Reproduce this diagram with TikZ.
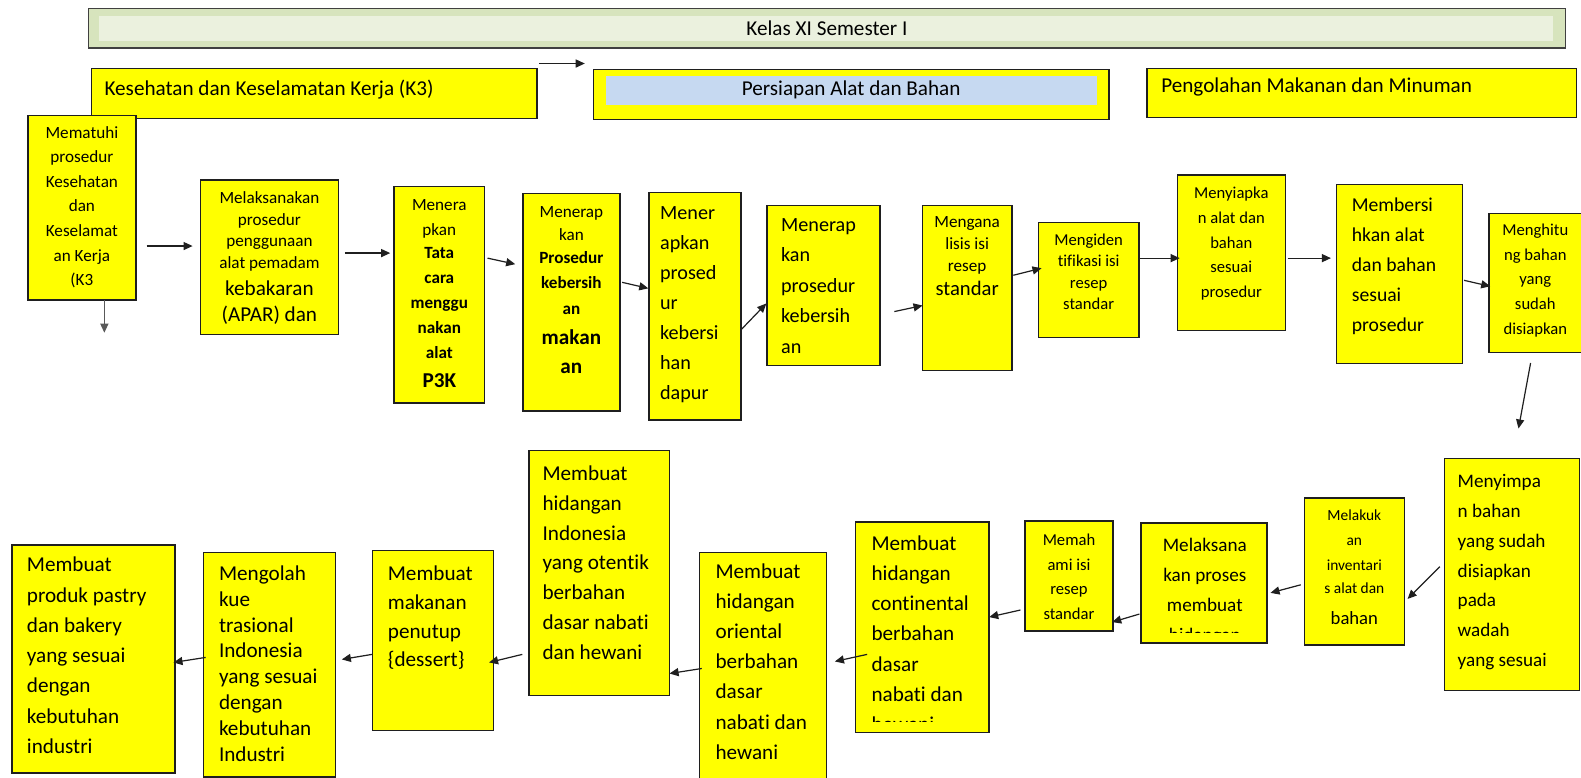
\documentclass[tikz,border=0pt]{standalone}
\usepackage{fontspec}
\setmainfont{Carlito}[Ligatures={NoCommon}]
\usetikzlibrary{arrows.meta,calc}
\definecolor{byel}{HTML}{FFFF00}
\definecolor{bout}{HTML}{D7E4BD}
\definecolor{binn}{HTML}{EBF1DE}
\definecolor{bblue}{HTML}{C6D9F1}
\newcommand\Ln[1]{{\fontsize{\bfs}{\bsk}\selectfont\rule{0pt}{0.8em}#1\par}}
\newcommand\Lz[3]{{\fontsize{#1}{#2}\selectfont\rule{0pt}{0.8em}#3\par}}
\newcommand\Bz[3]{{\fontsize{#1}{#2}\selectfont\bfseries\rule{0pt}{0.8em}#3\par}}
\newcommand\cbx[6]{\parbox[c][#2pt][t]{#1pt}{\def\bfs{#4}\def\bsk{#5}\centering\vspace*{#3pt}#6}}
\newcommand\lbx[7]{\parbox[c][#2pt][t]{#1pt}{\def\bfs{#5}\def\bsk{#6}\raggedright\leftskip=#4pt\relax\vspace*{#3pt}#7}}
\tikzset{
  box/.style={draw=black!88, line width=1.4pt, fill=byel, inner sep=0pt, anchor=north west},
  arr/.style={draw=black!88, line width=1.2pt, -{Triangle[length=9pt,width=8pt]}},
  garr/.style={arr, draw=black!65},
}
\begin{document}
\begin{tikzpicture}[x=1pt,y=-1pt]
\useasboundingbox (0,0) rectangle (1568,771);
% top
\node[box, draw=black!75, fill=bout, line width=1.3pt,
  path picture={\fill[binn] ([xshift=11pt,yshift=-7pt]path picture bounding box.north west) rectangle ([xshift=-12pt,yshift=7pt]path picture bounding box.south east);}]
  (banner) at (87,8) {\cbx{1465}{39}{10.1}{21}{25}{\Ln{Kelas XI Semester I}}};
\node[box] (k3) at (90,67) {\lbx{442}{50}{10.1}{13}{21}{25}{\Ln{Kesehatan dan Keselamatan Kerja (K3)}}};
\node[box, path picture={\fill[bblue] ([xshift=12pt,yshift=-7pt]path picture bounding box.north west) rectangle ([xshift=-12pt,yshift=15pt]path picture bounding box.south east);}]
  (persiapan) at (588,68) {\cbx{511}{50}{9.6}{21}{25}{\Ln{Persiapan Alat dan Bahan}}};
\node[box] (olah) at (1137,67) {\lbx{426}{49}{7.1}{14}{21}{25}{\Ln{Pengolahan Makanan dan Minuman}}};
% row 1
\node[box] (n1) at (27,114) {\cbx{107}{183}{8.6}{17}{24.4}{\Ln{Mematuhi}\Ln{prosedur}\Ln{Kesehatan}\Ln{dan}\Ln{Keselamat}\Ln{an Kerja}\Ln{(K3}}};
\node[box] (n2) at (198,178) {\cbx{137}{153}{9.6}{17}{21.5}{\Ln{Melaksanakan}\Ln{prosedur}\Ln{penggunaan}\Ln{alat pemadam}\Lz{21}{26.5}{kebakaran}\Lz{21}{25.8}{(APAR) dan}}};
\node[box] (n3) at (390,184) {\cbx{90}{215}{10.2}{17}{24.5}{\Ln{Menera}\Lz{17}{25}{pkan}\Bz{17}{23}{Tata}\Bz{17}{25}{cara}\Bz{17}{24.6}{menggu}\Bz{17}{24.4}{nakan}\Bz{17}{25}{alat}\Bz{21}{29}{P3K}}};
\node[box] (n4) at (518,191) {\cbx{96}{216}{10.2}{17}{23}{\Ln{Menerap}\Ln{kan}\Bz{17}{23}{Prosedur}\Bz{17}{25}{kebersih}\Bz{17}{25}{an}\Bz{21}{30.6}{makan}\Bz{21}{28.2}{an}}};
\node[box] (n5) at (643,190) {\lbx{91}{226}{11.2}{11}{20}{29.8}{\Ln{Mener}\Ln{apkan}\Ln{prosed}\Ln{ur}\Ln{kebersi}\Ln{han}\Ln{dapur}}};
\node[box] (n6) at (760,203) {\lbx{112}{159}{9.6}{14}{20}{30.2}{\Ln{Menerap}\Ln{kan}\Ln{prosedur}\Ln{kebersih}\Ln{an}}};
\node[box] (n7) at (914,203) {\cbx{89}{164}{8.2}{17}{21.5}{\Ln{Mengana}\Ln{lisis isi}\Lz{17}{22}{resep}\Lz{20.5}{24}{standar}}};
\node[box] (n8) at (1029,220) {\cbx{100}{114}{9.4}{16.5}{21.2}{\Ln{Mengiden}\Ln{tifikasi isi}\Ln{resep}\Ln{standar}}};
\node[box] (n9) at (1167,173) {\cbx{107}{154}{10.2}{16.5}{24.5}{\Ln{Menyiapka}\Ln{n alat dan}\Ln{bahan}\Ln{sesuai}\Ln{prosedur}}};
\node[box] (n10) at (1325,182) {\lbx{125}{178}{11.9}{15}{19.5}{29.75}{\Ln{Membersi}\Ln{hkan alat}\Ln{dan bahan}\Ln{sesuai}\Ln{prosedur}}};
\node[box] (n11) at (1476,211) {\cbx{92}{138}{8.4}{16.5}{24.6}{\Ln{Menghitu}\Ln{ng bahan}\Ln{yang}\Ln{sudah}\Ln{disiapkan}}};
% row 2
\node[box] (n12) at (1432,454) {\lbx{134}{230}{13.9}{13}{19}{29.5}{\Ln{Menyimpa}\Ln{n bahan}\Ln{yang sudah}\Ln{disiapkan}\Ln{pada}\Ln{wadah}\Ln{yang sesuai}}};
\node[box] (n13) at (1293,493) {\cbx{99}{146}{10}{15.3}{24.7}{\Ln{Melakuk}\Ln{an}\Ln{inventari}\Lz{15.3}{23.1}{s alat dan}\Lz{18.5}{30.8}{bahan}}};
\node[box, minimum width=125pt, minimum height=119pt,
  path picture={\clip ([yshift=10pt]path picture bounding box.south west) rectangle (path picture bounding box.north east);
    \node[anchor=north west, inner sep=0pt] at (path picture bounding box.north west) {\cbx{125}{119}{12.8}{19}{29.7}{\Ln{Melaksana}\Ln{kan proses}\Ln{membuat}\Ln{hidangan}}};}]
  (n14) at (1131,518) {};
\node[box] (n15) at (1016,516) {\cbx{87}{109}{11.1}{16.5}{24.4}{\Ln{Memah}\Ln{ami isi}\Ln{resep}\Ln{standar}}};
\node[box, minimum width=132pt, minimum height=209pt,
  path picture={\clip ([yshift=11pt]path picture bounding box.south west) rectangle (path picture bounding box.north east);
    \node[anchor=north west, inner sep=0pt] at (path picture bounding box.north west) {\lbx{132}{209}{11.1}{15}{21}{29.8}{\Ln{Membuat}\Ln{hidangan}\Ln{continental}\Ln{berbahan}\Ln{dasar}\Ln{nabati dan}\Ln{hewani}}};}]
  (n16) at (848,517) {};
\node[box] (n17) at (693,547) {\lbx{126}{226}{9.1}{16}{21}{29.9}{\Ln{Membuat}\Ln{hidangan}\Ln{oriental}\Ln{berbahan}\Ln{dasar}\Ln{nabati dan}\Ln{hewani}}};
\node[box] (n18) at (524,446) {\lbx{139}{243}{12.7}{13.4}{21}{29.7}{\Ln{Membuat}\Ln{hidangan}\Ln{Indonesia}\Ln{yang otentik}\Ln{berbahan}\Ln{dasar nabati}\Ln{dan hewani}}};
\node[box] (n19) at (369,545) {\lbx{120}{179}{12.9}{15}{21}{28.7}{\Ln{Membuat}\Ln{makanan}\Ln{penutup}\Ln{\{dessert\}}}};
\node[box] (n20) at (201,547) {\lbx{131}{223}{10.9}{15.5}{21}{25.7}{\Ln{Mengolah}\Ln{kue}\Ln{trasional}\Ln{Indonesia}\Ln{yang sesuai}\Ln{dengan}\Ln{kebutuhan}\Ln{Industri}}};
\node[box] (n21) at (11,540) {\lbx{162}{226}{9.6}{15}{21}{30}{\Ln{Membuat}\Ln{produk pastry}\Ln{dan bakery}\Ln{yang sesuai}\Ln{dengan}\Ln{kebutuhan}\Ln{industri}}};
% arrow end points
\coordinate (t0s) at (535,63);   \coordinate (t0e) at (580,63);
\coordinate (d1s) at (103.5,298); \coordinate (d1e) at (103.5,330);
\coordinate (a1s) at (145.5,244); \coordinate (a1e) at (191,244);
\coordinate (a2s) at (342,251);  \coordinate (a2e) at (387,251);
\coordinate (a3s) at (483.5,256); \coordinate (a3e) at (511,262);
\coordinate (a4s) at (617,280);  \coordinate (a4e) at (643,286);
\coordinate (a5s) at (735,327);  \coordinate (a5e) at (760,301);
\coordinate (a6s) at (887,309);  \coordinate (a6e) at (915,303);
\coordinate (a7s) at (1005,273); \coordinate (a7e) at (1033,266);
\coordinate (a8s) at (1130,256); \coordinate (a8e) at (1170,256);
\coordinate (a9s) at (1277,256); \coordinate (a9e) at (1320,256);
\coordinate (a10s) at (1452,278); \coordinate (a10e) at (1478,284);
\coordinate (a11s) at (1518,360); \coordinate (a11e) at (1506,425);
\coordinate (a12s) at (1428,562); \coordinate (a12e) at (1396,594);
\coordinate (a13s) at (1290,580); \coordinate (a13e) at (1260,588);
\coordinate (a14s) at (1130,609); \coordinate (a14e) at (1103,617);
\coordinate (a15s) at (1012,605); \coordinate (a15e) at (981,612);
\coordinate (a16s) at (860,649);  \coordinate (a16e) at (828,656);
\coordinate (a17s) at (696,663);  \coordinate (a17e) at (664,668);
\coordinate (a18s) at (518,649);  \coordinate (a18e) at (485,657);
\coordinate (a19s) at (369,649);  \coordinate (a19e) at (339,654);
\coordinate (a20s) at (204,652);  \coordinate (a20e) at (172,657);
\draw[arr] (t0s) -- (t0e);
\draw[garr] (d1s) -- (d1e);
\foreach \i in {1,...,20} {\draw[arr] (a\i s) -- (a\i e);}
\end{tikzpicture}
\end{document}
